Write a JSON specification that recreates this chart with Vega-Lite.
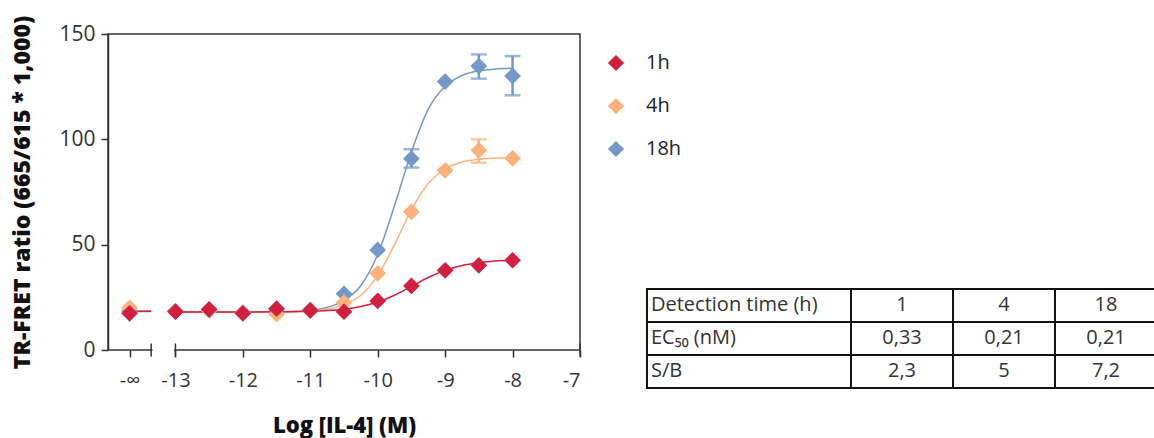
{
  "$schema": "https://vega.github.io/schema/vega-lite/v6.json",
  "background": "white",
  "padding": {"left": 11, "top": 12, "right": 0, "bottom": 10},
  "width": 472,
  "height": 316,
  "config": {
    "view": {"stroke": "#333333", "strokeWidth": 1.5},
    "font": "Open Sans",
    "axis": {"grid": false, "labelFont": "Open Sans", "titleFont": "Open Sans"}
  },
  "datasets": {
    "segs": [
      {"x": -13.34, "x2": -13.02, "y": 0, "y2": 0}
    ],
    "caps": [
      {"x": -13.36, "x2": -13.36, "y": -3.1, "y2": 3.1},
      {"x": -13, "x2": -13, "y": -3.1, "y2": 3.1},
      {"x": -7, "x2": -7, "y": -3.1, "y2": 3.1}
    ],
    "curves": [
      {"series": "18h", "seg": "a", "x": -13.68, "y": 18.3},
      {"series": "18h", "seg": "a", "x": -13.36, "y": 18.3},
      {"series": "18h", "seg": "b", "x": -13, "y": 18},
      {"series": "18h", "seg": "b", "x": -12.5, "y": 18},
      {"series": "18h", "seg": "b", "x": -12, "y": 18},
      {"series": "18h", "seg": "b", "x": -11.5, "y": 18.1},
      {"series": "18h", "seg": "b", "x": -11, "y": 18.9},
      {"series": "18h", "seg": "b", "x": -10.75, "y": 20.2},
      {"series": "18h", "seg": "b", "x": -10.5, "y": 23.4},
      {"series": "18h", "seg": "b", "x": -10.25, "y": 30.6},
      {"series": "18h", "seg": "b", "x": -10, "y": 45.3},
      {"series": "18h", "seg": "b", "x": -9.75, "y": 68.6},
      {"series": "18h", "seg": "b", "x": -9.5, "y": 94.0},
      {"series": "18h", "seg": "b", "x": -9.25, "y": 114.3},
      {"series": "18h", "seg": "b", "x": -9, "y": 125.2},
      {"series": "18h", "seg": "b", "x": -8.75, "y": 130.3},
      {"series": "18h", "seg": "b", "x": -8.5, "y": 132.5},
      {"series": "18h", "seg": "b", "x": -8.25, "y": 133.4},
      {"series": "18h", "seg": "b", "x": -8, "y": 133.8},
      {"series": "4h", "seg": "a", "x": -13.68, "y": 18.3},
      {"series": "4h", "seg": "a", "x": -13.36, "y": 18.3},
      {"series": "4h", "seg": "b", "x": -13, "y": 18},
      {"series": "4h", "seg": "b", "x": -12.5, "y": 18},
      {"series": "4h", "seg": "b", "x": -12, "y": 18},
      {"series": "4h", "seg": "b", "x": -11.5, "y": 18.1},
      {"series": "4h", "seg": "b", "x": -11, "y": 18.6},
      {"series": "4h", "seg": "b", "x": -10.75, "y": 19.4},
      {"series": "4h", "seg": "b", "x": -10.5, "y": 21.4},
      {"series": "4h", "seg": "b", "x": -10.25, "y": 26.0},
      {"series": "4h", "seg": "b", "x": -10, "y": 35.3},
      {"series": "4h", "seg": "b", "x": -9.75, "y": 50.0},
      {"series": "4h", "seg": "b", "x": -9.5, "y": 66.5},
      {"series": "4h", "seg": "b", "x": -9.25, "y": 79.0},
      {"series": "4h", "seg": "b", "x": -9, "y": 85.9},
      {"series": "4h", "seg": "b", "x": -8.75, "y": 89.2},
      {"series": "4h", "seg": "b", "x": -8.5, "y": 90.6},
      {"series": "4h", "seg": "b", "x": -8.25, "y": 91.1},
      {"series": "4h", "seg": "b", "x": -8, "y": 91.4},
      {"series": "1h", "seg": "a", "x": -13.68, "y": 18.4},
      {"series": "1h", "seg": "a", "x": -13.36, "y": 18.4},
      {"series": "1h", "seg": "b", "x": -13, "y": 18},
      {"series": "1h", "seg": "b", "x": -12.5, "y": 18},
      {"series": "1h", "seg": "b", "x": -12, "y": 18},
      {"series": "1h", "seg": "b", "x": -11.5, "y": 18.1},
      {"series": "1h", "seg": "b", "x": -11, "y": 18.4},
      {"series": "1h", "seg": "b", "x": -10.75, "y": 18.7},
      {"series": "1h", "seg": "b", "x": -10.5, "y": 19.4},
      {"series": "1h", "seg": "b", "x": -10.25, "y": 20.7},
      {"series": "1h", "seg": "b", "x": -10, "y": 22.8},
      {"series": "1h", "seg": "b", "x": -9.75, "y": 26.0},
      {"series": "1h", "seg": "b", "x": -9.5, "y": 30.2},
      {"series": "1h", "seg": "b", "x": -9.25, "y": 34.4},
      {"series": "1h", "seg": "b", "x": -9, "y": 37.8},
      {"series": "1h", "seg": "b", "x": -8.75, "y": 40.1},
      {"series": "1h", "seg": "b", "x": -8.5, "y": 41.4},
      {"series": "1h", "seg": "b", "x": -8.25, "y": 42.2},
      {"series": "1h", "seg": "b", "x": -8, "y": 42.6}
    ],
    "errors": [
      {"series": "18h", "x": -9.5, "lo": 86.6, "hi": 95.3},
      {"series": "18h", "x": -8.5, "lo": 128.8, "hi": 140.3},
      {"series": "18h", "x": -8, "lo": 120.9, "hi": 139.5},
      {"series": "4h", "x": -8.5, "lo": 88.9, "hi": 100.0}
    ],
    "points": [
      {"series": "18h", "x": -13.68, "y": 18.5},
      {"series": "18h", "x": -13, "y": 18.5},
      {"series": "18h", "x": -12.5, "y": 18.8},
      {"series": "18h", "x": -12, "y": 17.8},
      {"series": "18h", "x": -11.5, "y": 19.2},
      {"series": "18h", "x": -11, "y": 19.0},
      {"series": "18h", "x": -10.5, "y": 26.7},
      {"series": "18h", "x": -10, "y": 47.5},
      {"series": "18h", "x": -9.5, "y": 90.8},
      {"series": "18h", "x": -9, "y": 127.4},
      {"series": "18h", "x": -8.5, "y": 134.8},
      {"series": "18h", "x": -8, "y": 130.1},
      {"series": "4h", "x": -13.68, "y": 20.0},
      {"series": "4h", "x": -13, "y": 18.3},
      {"series": "4h", "x": -12.5, "y": 18.8},
      {"series": "4h", "x": -12, "y": 17.6},
      {"series": "4h", "x": -11.5, "y": 17.0},
      {"series": "4h", "x": -11, "y": 18.7},
      {"series": "4h", "x": -10.5, "y": 22.5},
      {"series": "4h", "x": -10, "y": 36.4},
      {"series": "4h", "x": -9.5, "y": 65.6},
      {"series": "4h", "x": -9, "y": 85.3},
      {"series": "4h", "x": -8.5, "y": 94.8},
      {"series": "4h", "x": -8, "y": 91.0},
      {"series": "1h", "x": -13.68, "y": 17.4},
      {"series": "1h", "x": -13, "y": 18.2},
      {"series": "1h", "x": -12.5, "y": 19.3},
      {"series": "1h", "x": -12, "y": 17.4},
      {"series": "1h", "x": -11.5, "y": 19.6},
      {"series": "1h", "x": -11, "y": 18.8},
      {"series": "1h", "x": -10.5, "y": 18.2},
      {"series": "1h", "x": -10, "y": 23.3},
      {"series": "1h", "x": -9.5, "y": 30.4},
      {"series": "1h", "x": -9, "y": 37.8},
      {"series": "1h", "x": -8.5, "y": 40.2},
      {"series": "1h", "x": -8, "y": 42.6}
    ],
    "table": [
      {"col": 0, "c0": 0, "c1": 2, "r0": 2, "r1": 3, "t": "Detection time (h)"},
      {"col": 1, "c0": 2, "c1": 3, "r0": 2, "r1": 3, "t": "1"},
      {"col": 2, "c0": 3, "c1": 4, "r0": 2, "r1": 3, "t": "4"},
      {"col": 3, "c0": 4, "c1": 5, "r0": 2, "r1": 3, "t": "18"},
      {"col": 0, "c0": 0, "c1": 2, "r0": 1, "r1": 2, "t": "EC₅₀ (nM)"},
      {"col": 1, "c0": 2, "c1": 3, "r0": 1, "r1": 2, "t": "0,33"},
      {"col": 2, "c0": 3, "c1": 4, "r0": 1, "r1": 2, "t": "0,21"},
      {"col": 3, "c0": 4, "c1": 5, "r0": 1, "r1": 2, "t": "0,21"},
      {"col": 0, "c0": 0, "c1": 2, "r0": 0, "r1": 1, "t": "S/B"},
      {"col": 1, "c0": 2, "c1": 3, "r0": 0, "r1": 1, "t": "2,3"},
      {"col": 2, "c0": 3, "c1": 4, "r0": 0, "r1": 1, "t": "5"},
      {"col": 3, "c0": 4, "c1": 5, "r0": 0, "r1": 1, "t": "7,2"}
    ]
  },
  "layer": [
    {
      "layer": [
        {
          "data": {"name": "segs"},
          "mark": {"type": "rule", "color": "white", "strokeWidth": 5},
          "encoding": {
            "x": {
              "field": "x", "type": "quantitative",
              "scale": {"domain": [-14, -7], "nice": false, "zero": false},
              "axis": {
                "title": "Log [IL-4] (M)",
                "titleFontSize": 22, "titleFontWeight": 800, "titleColor": "#111111", "titlePadding": 25,
                "domain": false,
                "values": [-13.68, -13, -12, -11, -10, -9, -8, -7],
                "labelExpr": "datum.value < -13.5 ? '-∞' : '-' + abs(datum.value)",
                "labelFontSize": 20, "labelColor": "#333333", "labelPadding": 13,
                "tickColor": "#333333", "tickWidth": 1.5, "tickSize": 7
              }
            },
            "x2": {"field": "x2"},
            "y": {
              "field": "y", "type": "quantitative",
              "scale": {"domain": [0, 150], "nice": false},
              "axis": {
                "title": "TR-FRET ratio  (665/615 * 1,000)",
                "titleFontSize": 23, "titleFontWeight": 800, "titleColor": "#111111", "titlePadding": 24,
                "values": [0, 50, 100, 150],
                "labelFontSize": 21, "labelColor": "#333333", "labelPadding": 6,
                "domainColor": "#333333", "domainWidth": 1.5,
                "tickColor": "#333333", "tickWidth": 1.5, "tickSize": 7
              }
            },
            "y2": {"field": "y2"}
          }
        },
        {
          "data": {"name": "caps"},
          "mark": {"type": "rule", "color": "#333333", "strokeWidth": 1.5},
          "encoding": {
            "x": {"field": "x", "type": "quantitative"},
            "x2": {"field": "x2"},
            "y": {"field": "y", "type": "quantitative"},
            "y2": {"field": "y2"}
          }
        },
        {
          "data": {"name": "curves"},
          "mark": {"type": "line", "strokeWidth": 1.5, "interpolate": "monotone"},
          "encoding": {
            "x": {"field": "x", "type": "quantitative"},
            "y": {"field": "y", "type": "quantitative"},
            "detail": {"field": "seg"},
            "stroke": {
              "field": "series", "type": "nominal",
              "scale": {"domain": ["18h", "4h", "1h"], "range": ["#7398c9", "#fdb27c", "#d11f3f"]},
              "legend": null
            }
          }
        },
        {
          "data": {"name": "errors"},
          "mark": {"type": "rule", "strokeWidth": 2.5},
          "encoding": {
            "x": {"field": "x", "type": "quantitative"},
            "y": {"field": "lo", "type": "quantitative"},
            "y2": {"field": "hi"},
            "stroke": {"field": "series", "type": "nominal", "legend": null}
          }
        },
        {
          "data": {"name": "errors"},
          "mark": {"type": "tick", "orient": "horizontal", "thickness": 2.5, "size": 16},
          "encoding": {
            "x": {"field": "x", "type": "quantitative"},
            "y": {"field": "lo", "type": "quantitative"},
            "color": {"field": "series", "type": "nominal", "scale": {"domain": ["18h", "4h", "1h"], "range": ["#7398c9", "#fdb27c", "#d11f3f"]}, "legend": null}
          }
        },
        {
          "data": {"name": "errors"},
          "mark": {"type": "tick", "orient": "horizontal", "thickness": 2.5, "size": 16},
          "encoding": {
            "x": {"field": "x", "type": "quantitative"},
            "y": {"field": "hi", "type": "quantitative"},
            "color": {"field": "series", "type": "nominal", "legend": null}
          }
        },
        {
          "data": {"name": "points"},
          "mark": {"type": "point", "shape": "diamond", "filled": true, "size": 280, "opacity": 1, "strokeWidth": 0},
          "encoding": {
            "x": {"field": "x", "type": "quantitative"},
            "y": {"field": "y", "type": "quantitative"},
            "fill": {
              "field": "series", "type": "nominal",
              "scale": {"domain": ["1h", "4h", "18h"], "range": ["#d11f3f", "#fdb27c", "#7398c9"]},
              "legend": {
                "title": null, "orient": "none", "legendX": 498, "legendY": 19, "padding": 0,
                "symbolType": "diamond", "symbolSize": 260, "symbolStrokeWidth": 0,
                "labelFontSize": 20, "labelColor": "#222222", "labelOffset": 20,
                "rowPadding": 23, "labelFont": "Open Sans"
              }
            }
          }
        }
      ]
    },
    {
      "data": {"name": "table"},
      "layer": [
        {
          "mark": {"type": "rect", "fill": "white", "fillOpacity": 0, "stroke": "#111111", "strokeWidth": 2},
          "encoding": {
            "x": {"field": "c0", "type": "quantitative", "scale": {"domain": [0, 5], "range": [539, 1049], "nice": false, "zero": false}, "axis": null},
            "x2": {"field": "c1"},
            "y": {"field": "r0", "type": "quantitative", "scale": {"domain": [0, 10.727], "range": [354, 0], "nice": false, "zero": false}, "axis": null},
            "y2": {"field": "r1"}
          }
        },
        {
          "transform": [
            {"filter": "datum.col == 0"},
            {"calculate": "(datum.r0 + datum.r1) / 2", "as": "ym"}
          ],
          "mark": {"type": "text", "align": "left", "dx": 4, "fontSize": 20, "color": "#333333", "baseline": "middle"},
          "encoding": {
            "x": {"field": "c0", "type": "quantitative"},
            "y": {"field": "ym", "type": "quantitative"},
            "text": {"field": "t"}
          }
        },
        {
          "transform": [
            {"filter": "datum.col > 0"},
            {"calculate": "(datum.r0 + datum.r1) / 2", "as": "ym"},
            {"calculate": "(datum.c0 + datum.c1) / 2", "as": "xm"}
          ],
          "mark": {"type": "text", "align": "center", "fontSize": 20, "color": "#333333", "baseline": "middle"},
          "encoding": {
            "x": {"field": "xm", "type": "quantitative"},
            "y": {"field": "ym", "type": "quantitative"},
            "text": {"field": "t"}
          }
        }
      ]
    }
  ],
  "resolve": {"scale": {"x": "independent", "y": "independent"}, "axis": {"x": "independent", "y": "independent"}}
}
